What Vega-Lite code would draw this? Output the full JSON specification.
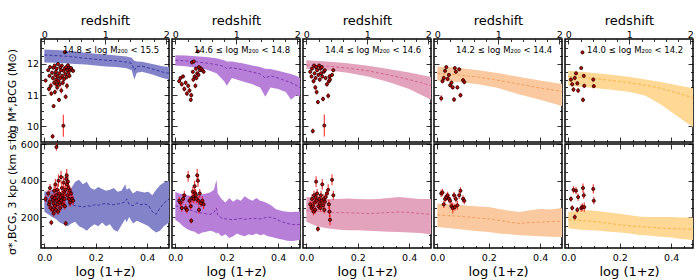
{
"$schema":"https://vega.github.io/schema/vega-lite/v6.json",
"padding":{"left":5,"top":13,"right":5,"bottom":3},
"config":{"view":{"stroke":"black","strokeWidth":1.5},"font":"DejaVu Sans",
"axis":{"domain":false,"grid":false,"tickColor":"black","tickWidth":0.8,"labelFont":"DejaVu Sans","labelFontSize":9.5,"labelColor":"black","titleFont":"DejaVu Sans","titleFontSize":13,"titleFontWeight":"normal","titleColor":"black","labelFlush":false,"labelOverlap":false},
"axisY":{"titleFontSize":11}},
"datasets":{
"band":[
{"p":1,"q":"m","x":0,"lo":12.05,"med":12.29,"hi":12.46},{"p":1,"q":"m","x":0.04,"lo":12.04,"med":12.27,"hi":12.45},{"p":1,"q":"m","x":0.08,"lo":12.02,"med":12.25,"hi":12.43},{"p":1,"q":"m","x":0.12,"lo":12.0,"med":12.22,"hi":12.4},{"p":1,"q":"m","x":0.16,"lo":11.98,"med":12.18,"hi":12.36},{"p":1,"q":"m","x":0.2,"lo":11.95,"med":12.15,"hi":12.33},{"p":1,"q":"m","x":0.24,"lo":11.92,"med":12.12,"hi":12.3},{"p":1,"q":"m","x":0.28,"lo":11.9,"med":12.1,"hi":12.27},{"p":1,"q":"m","x":0.32,"lo":11.86,"med":12.06,"hi":12.24},{"p":1,"q":"m","x":0.34,"lo":11.8,"med":12.02,"hi":12.2},{"p":1,"q":"m","x":0.35,"lo":11.5,"med":11.8,"hi":12.1},{"p":1,"q":"m","x":0.36,"lo":11.72,"med":11.92,"hi":12.08},{"p":1,"q":"m","x":0.38,"lo":11.75,"med":11.93,"hi":12.07},{"p":1,"q":"m","x":0.42,"lo":11.66,"med":11.84,"hi":12.0},{"p":1,"q":"m","x":0.46,"lo":11.55,"med":11.74,"hi":11.93},{"p":1,"q":"m","x":0.485,"lo":11.5,"med":11.7,"hi":11.9},
{"p":2,"q":"m","x":0,"lo":11.95,"med":12.12,"hi":12.28},{"p":2,"q":"m","x":0.04,"lo":11.93,"med":12.1,"hi":12.27},{"p":2,"q":"m","x":0.08,"lo":11.88,"med":12.07,"hi":12.25},{"p":2,"q":"m","x":0.12,"lo":11.82,"med":12.03,"hi":12.22},{"p":2,"q":"m","x":0.16,"lo":11.7,"med":11.98,"hi":12.18},{"p":2,"q":"m","x":0.19,"lo":11.45,"med":11.92,"hi":12.12},{"p":2,"q":"m","x":0.2,"lo":11.3,"med":11.85,"hi":12.08},{"p":2,"q":"m","x":0.22,"lo":11.55,"med":11.88,"hi":12.08},{"p":2,"q":"m","x":0.26,"lo":11.45,"med":11.82,"hi":12.02},{"p":2,"q":"m","x":0.3,"lo":11.35,"med":11.74,"hi":11.95},{"p":2,"q":"m","x":0.33,"lo":11.25,"med":11.68,"hi":11.9},{"p":2,"q":"m","x":0.35,"lo":10.95,"med":11.55,"hi":11.85},{"p":2,"q":"m","x":0.37,"lo":11.25,"med":11.62,"hi":11.84},{"p":2,"q":"m","x":0.4,"lo":11.2,"med":11.55,"hi":11.78},{"p":2,"q":"m","x":0.43,"lo":11.1,"med":11.46,"hi":11.72},{"p":2,"q":"m","x":0.45,"lo":10.85,"med":11.4,"hi":11.68},{"p":2,"q":"m","x":0.47,"lo":11.0,"med":11.32,"hi":11.62},{"p":2,"q":"m","x":0.485,"lo":10.95,"med":11.24,"hi":11.55},
{"p":3,"q":"m","x":0,"lo":11.84,"med":11.96,"hi":12.12},{"p":3,"q":"m","x":0.08,"lo":11.8,"med":11.93,"hi":12.08},{"p":3,"q":"m","x":0.16,"lo":11.72,"med":11.87,"hi":12.02},{"p":3,"q":"m","x":0.24,"lo":11.6,"med":11.78,"hi":11.94},{"p":3,"q":"m","x":0.32,"lo":11.42,"med":11.65,"hi":11.84},{"p":3,"q":"m","x":0.4,"lo":11.2,"med":11.5,"hi":11.73},{"p":3,"q":"m","x":0.485,"lo":10.85,"med":11.31,"hi":11.58},
{"p":4,"q":"m","x":0,"lo":11.47,"med":11.7,"hi":11.92},{"p":4,"q":"m","x":0.08,"lo":11.42,"med":11.65,"hi":11.88},{"p":4,"q":"m","x":0.16,"lo":11.35,"med":11.58,"hi":11.8},{"p":4,"q":"m","x":0.24,"lo":11.22,"med":11.47,"hi":11.7},{"p":4,"q":"m","x":0.32,"lo":11.02,"med":11.35,"hi":11.58},{"p":4,"q":"m","x":0.4,"lo":10.85,"med":11.23,"hi":11.47},{"p":4,"q":"m","x":0.485,"lo":10.65,"med":11.12,"hi":11.36},
{"p":5,"q":"m","x":0,"lo":11.3,"med":11.6,"hi":11.78},{"p":5,"q":"m","x":0.08,"lo":11.25,"med":11.55,"hi":11.73},{"p":5,"q":"m","x":0.16,"lo":11.18,"med":11.48,"hi":11.66},{"p":5,"q":"m","x":0.24,"lo":11.1,"med":11.4,"hi":11.58},{"p":5,"q":"m","x":0.3,"lo":10.98,"med":11.32,"hi":11.5},{"p":5,"q":"m","x":0.36,"lo":10.7,"med":11.22,"hi":11.42},{"p":5,"q":"m","x":0.42,"lo":10.35,"med":11.08,"hi":11.33},{"p":5,"q":"m","x":0.485,"lo":9.97,"med":10.92,"hi":11.22},
{"p":1,"q":"s","x":0,"lo":230,"med":290,"hi":342},{"p":1,"q":"s","x":0.015,"lo":215,"med":285,"hi":340},{"p":1,"q":"s","x":0.03,"lo":200,"med":290,"hi":350},{"p":1,"q":"s","x":0.045,"lo":190,"med":280,"hi":345},{"p":1,"q":"s","x":0.06,"lo":170,"med":275,"hi":335},{"p":1,"q":"s","x":0.075,"lo":160,"med":270,"hi":330},{"p":1,"q":"s","x":0.09,"lo":150,"med":265,"hi":345},{"p":1,"q":"s","x":0.105,"lo":165,"med":270,"hi":360},{"p":1,"q":"s","x":0.12,"lo":175,"med":262,"hi":395},{"p":1,"q":"s","x":0.135,"lo":150,"med":260,"hi":405},{"p":1,"q":"s","x":0.15,"lo":140,"med":255,"hi":380},{"p":1,"q":"s","x":0.165,"lo":125,"med":262,"hi":395},{"p":1,"q":"s","x":0.18,"lo":145,"med":260,"hi":360},{"p":1,"q":"s","x":0.195,"lo":160,"med":268,"hi":350},{"p":1,"q":"s","x":0.21,"lo":150,"med":265,"hi":365},{"p":1,"q":"s","x":0.225,"lo":170,"med":272,"hi":355},{"p":1,"q":"s","x":0.24,"lo":150,"med":275,"hi":345},{"p":1,"q":"s","x":0.255,"lo":160,"med":270,"hi":350},{"p":1,"q":"s","x":0.27,"lo":130,"med":268,"hi":360},{"p":1,"q":"s","x":0.285,"lo":120,"med":272,"hi":340},{"p":1,"q":"s","x":0.3,"lo":155,"med":275,"hi":345},{"p":1,"q":"s","x":0.315,"lo":190,"med":285,"hi":380},{"p":1,"q":"s","x":0.32,"lo":170,"med":300,"hi":350},{"p":1,"q":"s","x":0.33,"lo":200,"med":270,"hi":360},{"p":1,"q":"s","x":0.345,"lo":165,"med":262,"hi":330},{"p":1,"q":"s","x":0.36,"lo":180,"med":278,"hi":345},{"p":1,"q":"s","x":0.375,"lo":170,"med":268,"hi":340},{"p":1,"q":"s","x":0.39,"lo":160,"med":272,"hi":335},{"p":1,"q":"s","x":0.405,"lo":150,"med":265,"hi":340},{"p":1,"q":"s","x":0.42,"lo":130,"med":230,"hi":320},{"p":1,"q":"s","x":0.435,"lo":115,"med":215,"hi":350},{"p":1,"q":"s","x":0.45,"lo":125,"med":250,"hi":375},{"p":1,"q":"s","x":0.465,"lo":150,"med":275,"hi":390},{"p":1,"q":"s","x":0.485,"lo":170,"med":300,"hi":400},
{"p":2,"q":"s","x":0,"lo":185,"med":262,"hi":340},{"p":2,"q":"s","x":0.015,"lo":170,"med":258,"hi":330},{"p":2,"q":"s","x":0.03,"lo":150,"med":250,"hi":325},{"p":2,"q":"s","x":0.045,"lo":135,"med":245,"hi":320},{"p":2,"q":"s","x":0.06,"lo":125,"med":238,"hi":318},{"p":2,"q":"s","x":0.075,"lo":120,"med":230,"hi":315},{"p":2,"q":"s","x":0.09,"lo":105,"med":225,"hi":322},{"p":2,"q":"s","x":0.105,"lo":115,"med":222,"hi":325},{"p":2,"q":"s","x":0.12,"lo":120,"med":218,"hi":330},{"p":2,"q":"s","x":0.135,"lo":125,"med":215,"hi":335},{"p":2,"q":"s","x":0.15,"lo":120,"med":225,"hi":350},{"p":2,"q":"s","x":0.16,"lo":110,"med":250,"hi":405},{"p":2,"q":"s","x":0.165,"lo":115,"med":210,"hi":330},{"p":2,"q":"s","x":0.18,"lo":95,"med":195,"hi":300},{"p":2,"q":"s","x":0.195,"lo":105,"med":190,"hi":280},{"p":2,"q":"s","x":0.21,"lo":85,"med":188,"hi":305},{"p":2,"q":"s","x":0.225,"lo":95,"med":185,"hi":285},{"p":2,"q":"s","x":0.24,"lo":110,"med":190,"hi":300},{"p":2,"q":"s","x":0.255,"lo":100,"med":192,"hi":290},{"p":2,"q":"s","x":0.27,"lo":95,"med":188,"hi":315},{"p":2,"q":"s","x":0.285,"lo":105,"med":190,"hi":300},{"p":2,"q":"s","x":0.3,"lo":100,"med":195,"hi":290},{"p":2,"q":"s","x":0.315,"lo":110,"med":192,"hi":305},{"p":2,"q":"s","x":0.33,"lo":100,"med":190,"hi":290},{"p":2,"q":"s","x":0.345,"lo":105,"med":195,"hi":285},{"p":2,"q":"s","x":0.36,"lo":95,"med":200,"hi":275},{"p":2,"q":"s","x":0.375,"lo":90,"med":198,"hi":262},{"p":2,"q":"s","x":0.39,"lo":85,"med":190,"hi":245},{"p":2,"q":"s","x":0.405,"lo":80,"med":180,"hi":238},{"p":2,"q":"s","x":0.42,"lo":75,"med":172,"hi":232},{"p":2,"q":"s","x":0.435,"lo":70,"med":165,"hi":230},{"p":2,"q":"s","x":0.45,"lo":68,"med":160,"hi":228},{"p":2,"q":"s","x":0.465,"lo":70,"med":158,"hi":230},{"p":2,"q":"s","x":0.485,"lo":75,"med":160,"hi":230},
{"p":3,"q":"s","x":0,"lo":175,"med":235,"hi":310},{"p":3,"q":"s","x":0.04,"lo":150,"med":232,"hi":305},{"p":3,"q":"s","x":0.08,"lo":138,"med":228,"hi":300},{"p":3,"q":"s","x":0.12,"lo":132,"med":225,"hi":300},{"p":3,"q":"s","x":0.16,"lo":128,"med":224,"hi":302},{"p":3,"q":"s","x":0.2,"lo":128,"med":222,"hi":300},{"p":3,"q":"s","x":0.24,"lo":125,"med":220,"hi":298},{"p":3,"q":"s","x":0.28,"lo":122,"med":222,"hi":300},{"p":3,"q":"s","x":0.32,"lo":120,"med":225,"hi":305},{"p":3,"q":"s","x":0.36,"lo":118,"med":228,"hi":310},{"p":3,"q":"s","x":0.4,"lo":115,"med":226,"hi":305},{"p":3,"q":"s","x":0.44,"lo":112,"med":220,"hi":300},{"p":3,"q":"s","x":0.485,"lo":105,"med":215,"hi":300},
{"p":4,"q":"s","x":0,"lo":145,"med":212,"hi":275},{"p":4,"q":"s","x":0.04,"lo":140,"med":208,"hi":272},{"p":4,"q":"s","x":0.08,"lo":135,"med":205,"hi":268},{"p":4,"q":"s","x":0.12,"lo":128,"med":200,"hi":262},{"p":4,"q":"s","x":0.16,"lo":122,"med":195,"hi":258},{"p":4,"q":"s","x":0.2,"lo":118,"med":190,"hi":255},{"p":4,"q":"s","x":0.24,"lo":110,"med":182,"hi":245},{"p":4,"q":"s","x":0.28,"lo":105,"med":172,"hi":235},{"p":4,"q":"s","x":0.32,"lo":100,"med":165,"hi":228},{"p":4,"q":"s","x":0.36,"lo":98,"med":170,"hi":238},{"p":4,"q":"s","x":0.4,"lo":95,"med":172,"hi":245},{"p":4,"q":"s","x":0.44,"lo":92,"med":175,"hi":242},{"p":4,"q":"s","x":0.485,"lo":90,"med":178,"hi":250},
{"p":5,"q":"s","x":0,"lo":138,"med":185,"hi":228},{"p":5,"q":"s","x":0.04,"lo":132,"med":182,"hi":235},{"p":5,"q":"s","x":0.08,"lo":128,"med":178,"hi":238},{"p":5,"q":"s","x":0.12,"lo":125,"med":172,"hi":232},{"p":5,"q":"s","x":0.16,"lo":120,"med":165,"hi":225},{"p":5,"q":"s","x":0.2,"lo":115,"med":158,"hi":218},{"p":5,"q":"s","x":0.24,"lo":110,"med":152,"hi":210},{"p":5,"q":"s","x":0.28,"lo":102,"med":148,"hi":202},{"p":5,"q":"s","x":0.32,"lo":98,"med":144,"hi":200},{"p":5,"q":"s","x":0.36,"lo":92,"med":140,"hi":200},{"p":5,"q":"s","x":0.4,"lo":88,"med":137,"hi":200},{"p":5,"q":"s","x":0.44,"lo":80,"med":135,"hi":198},{"p":5,"q":"s","x":0.485,"lo":74,"med":133,"hi":198}
],
"pts":[
{"p":1,"x":0.005,"m":11.47,"me":0.06,"s":300,"se":18},{"p":1,"x":0.015,"m":11.8,"me":0.05,"s":330,"se":20},{"p":1,"x":0.018,"m":11.2,"me":0.08,"s":270,"se":25},{"p":1,"x":0.02,"m":11.62,"me":0.06,"s":285,"se":20},{"p":1,"x":0.022,"m":11.9,"me":0.05,"s":360,"se":22},{"p":1,"x":0.025,"m":11.3,"me":0.1,"s":250,"se":20},{"p":1,"x":0.027,"m":11.05,"me":0.08,"s":170,"se":15},{"p":1,"x":0.03,"m":11.72,"me":0.06,"s":310,"se":20},{"p":1,"x":0.032,"m":9.68,"me":0.08,"s":240,"se":20},{"p":1,"x":0.033,"m":11.55,"me":0.07,"s":295,"se":25},{"p":1,"x":0.035,"m":11.88,"me":0.05,"s":275,"se":20},{"p":1,"x":0.036,"m":10.65,"me":0.06,"s":220,"se":18},{"p":1,"x":0.038,"m":11.4,"me":0.09,"s":345,"se":30},{"p":1,"x":0.04,"m":11.95,"me":0.05,"s":305,"se":20},{"p":1,"x":0.041,"m":11.1,"me":0.08,"s":260,"se":20},{"p":1,"x":0.043,"m":11.65,"me":0.06,"s":380,"se":30},{"p":1,"x":0.045,"m":11.75,"me":0.06,"s":240,"se":20},{"p":1,"x":0.046,"m":11.5,"me":0.09,"s":320,"se":25},{"p":1,"x":0.048,"m":11.85,"me":0.05,"s":290,"se":20},{"p":1,"x":0.05,"m":11.25,"me":0.1,"s":350,"se":30},{"p":1,"x":0.052,"m":11.6,"me":0.07,"s":270,"se":20},{"p":1,"x":0.053,"m":12.0,"me":0.05,"s":230,"se":18},{"p":1,"x":0.055,"m":11.45,"me":0.08,"s":400,"se":35},{"p":1,"x":0.057,"m":10.85,"me":0.07,"s":300,"se":25},{"p":1,"x":0.058,"m":11.7,"me":0.06,"s":330,"se":25},{"p":1,"x":0.06,"m":11.35,"me":0.09,"s":280,"se":20},{"p":1,"x":0.062,"m":11.9,"me":0.05,"s":250,"se":20},{"p":1,"x":0.063,"m":11.55,"me":0.07,"s":310,"se":25},{"p":1,"x":0.065,"m":11.8,"me":0.06,"s":420,"se":35},{"p":1,"x":0.066,"m":11.15,"me":0.1,"s":290,"se":25},{"p":1,"x":0.068,"m":11.95,"me":0.05,"s":360,"se":30},{"p":1,"x":0.07,"m":11.62,"me":0.07,"s":320,"se":25},{"p":1,"x":0.072,"m":11.4,"me":0.09,"s":270,"se":20},{"p":1,"x":0.074,"m":10.02,"me":0.35,"s":300,"se":25},{"p":1,"x":0.075,"m":11.78,"me":0.06,"s":390,"se":35},{"p":1,"x":0.077,"m":11.52,"me":0.08,"s":340,"se":30},{"p":1,"x":0.079,"m":11.85,"me":0.06,"s":300,"se":25},{"p":1,"x":0.08,"m":12.38,"me":0.05,"s":260,"se":20},{"p":1,"x":0.082,"m":11.68,"me":0.07,"s":350,"se":30},{"p":1,"x":0.083,"m":10.95,"me":0.08,"s":165,"se":15},{"p":1,"x":0.085,"m":11.9,"me":0.06,"s":410,"se":35},{"p":1,"x":0.087,"m":11.58,"me":0.08,"s":430,"se":35},{"p":1,"x":0.088,"m":11.3,"me":0.1,"s":380,"se":30},{"p":1,"x":0.09,"m":11.8,"me":0.06,"s":320,"se":25},{"p":1,"x":0.092,"m":11.96,"me":0.05,"s":395,"se":30},{"p":1,"x":0.094,"m":11.72,"me":0.07,"s":360,"se":30},{"p":1,"x":0.096,"m":11.88,"me":0.06,"s":300,"se":25},{"p":1,"x":0.098,"m":11.62,"me":0.08,"s":345,"se":30},{"p":1,"x":0.1,"m":11.82,"me":0.06,"s":280,"se":25},{"p":1,"x":0.104,"m":11.87,"me":0.05,"s":330,"se":30},{"p":1,"x":0.108,"m":11.8,"me":0.06,"s":300,"se":25},{"p":1,"x":0.112,"m":11.78,"me":0.06,"s":290,"se":25},{"p":1,"x":0.047,"m":11.35,"me":0.08,"s":585,"se":20},
{"p":2,"x":0.015,"m":11.45,"me":0.07,"s":290,"se":20},{"p":2,"x":0.02,"m":11.55,"me":0.06,"s":280,"se":20},{"p":2,"x":0.025,"m":11.35,"me":0.08,"s":250,"se":20},{"p":2,"x":0.03,"m":11.6,"me":0.06,"s":300,"se":25},{"p":2,"x":0.035,"m":11.2,"me":0.08,"s":320,"se":25},{"p":2,"x":0.04,"m":11.4,"me":0.07,"s":250,"se":20},{"p":2,"x":0.045,"m":11.05,"me":0.08,"s":240,"se":20},{"p":2,"x":0.05,"m":11.3,"me":0.07,"s":425,"se":30},{"p":2,"x":0.055,"m":11.15,"me":0.08,"s":290,"se":20},{"p":2,"x":0.06,"m":10.85,"me":0.07,"s":260,"se":20},{"p":2,"x":0.062,"m":11.0,"me":0.08,"s":180,"se":15},{"p":2,"x":0.065,"m":12.05,"me":0.05,"s":305,"se":25},{"p":2,"x":0.068,"m":11.75,"me":0.06,"s":340,"se":25},{"p":2,"x":0.07,"m":11.5,"me":0.08,"s":310,"se":25},{"p":2,"x":0.072,"m":12.08,"me":0.05,"s":300,"se":25},{"p":2,"x":0.075,"m":11.6,"me":0.07,"s":370,"se":30},{"p":2,"x":0.078,"m":11.3,"me":0.08,"s":330,"se":25},{"p":2,"x":0.08,"m":11.85,"me":0.06,"s":320,"se":25},{"p":2,"x":0.082,"m":11.55,"me":0.07,"s":300,"se":25},{"p":2,"x":0.085,"m":11.7,"me":0.06,"s":430,"se":35},{"p":2,"x":0.088,"m":12.4,"me":0.05,"s":400,"se":35},{"p":2,"x":0.09,"m":11.65,"me":0.07,"s":290,"se":25},{"p":2,"x":0.092,"m":11.9,"me":0.06,"s":240,"se":20},{"p":2,"x":0.095,"m":11.8,"me":0.06,"s":330,"se":25},{"p":2,"x":0.1,"m":11.85,"me":0.06,"s":275,"se":20},{"p":2,"x":0.105,"m":11.8,"me":0.06,"s":290,"se":25},{"p":2,"x":0.11,"m":11.75,"me":0.06,"s":270,"se":25},
{"p":3,"x":0.015,"m":11.75,"me":0.06,"s":270,"se":20},{"p":3,"x":0.02,"m":11.6,"me":0.07,"s":250,"se":20},{"p":3,"x":0.022,"m":11.85,"me":0.05,"s":300,"se":25},{"p":3,"x":0.025,"m":9.85,"me":0.08,"s":260,"se":20},{"p":3,"x":0.028,"m":11.45,"me":0.08,"s":230,"se":20},{"p":3,"x":0.03,"m":11.95,"me":0.05,"s":320,"se":25},{"p":3,"x":0.032,"m":11.7,"me":0.06,"s":280,"se":20},{"p":3,"x":0.035,"m":11.25,"me":0.08,"s":240,"se":20},{"p":3,"x":0.036,"m":11.55,"me":0.07,"s":310,"se":25},{"p":3,"x":0.038,"m":11.9,"me":0.05,"s":395,"se":30},{"p":3,"x":0.04,"m":11.1,"me":0.08,"s":290,"se":20},{"p":3,"x":0.042,"m":11.8,"me":0.06,"s":330,"se":25},{"p":3,"x":0.045,"m":10.78,"me":0.07,"s":135,"se":15},{"p":3,"x":0.047,"m":11.65,"me":0.06,"s":260,"se":20},{"p":3,"x":0.05,"m":11.95,"me":0.05,"s":300,"se":25},{"p":3,"x":0.052,"m":11.5,"me":0.07,"s":275,"se":20},{"p":3,"x":0.055,"m":11.85,"me":0.06,"s":250,"se":20},{"p":3,"x":0.057,"m":11.7,"me":0.06,"s":320,"se":25},{"p":3,"x":0.06,"m":11.9,"me":0.05,"s":290,"se":20},{"p":3,"x":0.062,"m":11.6,"me":0.07,"s":380,"se":30},{"p":3,"x":0.065,"m":10.88,"me":0.08,"s":265,"se":20},{"p":3,"x":0.068,"m":11.75,"me":0.06,"s":300,"se":25},{"p":3,"x":0.07,"m":10.03,"me":0.35,"s":240,"se":20},{"p":3,"x":0.072,"m":11.8,"me":0.06,"s":285,"se":20},{"p":3,"x":0.075,"m":11.55,"me":0.07,"s":310,"se":25},{"p":3,"x":0.08,"m":11.35,"me":0.08,"s":330,"se":25},{"p":3,"x":0.085,"m":10.98,"me":0.08,"s":350,"se":30},{"p":3,"x":0.088,"m":11.45,"me":0.08,"s":270,"se":25},{"p":3,"x":0.09,"m":11.6,"me":0.07,"s":230,"se":30},{"p":3,"x":0.092,"m":11.5,"me":0.08,"s":185,"se":30},{"p":3,"x":0.1,"m":11.65,"me":0.07,"s":405,"se":30},{"p":3,"x":0.105,"m":11.8,"me":0.06,"s":320,"se":25},
{"p":4,"x":0.015,"m":10.9,"me":0.1,"s":330,"se":20},{"p":4,"x":0.02,"m":11.45,"me":0.07,"s":335,"se":20},{"p":4,"x":0.025,"m":11.55,"me":0.07,"s":270,"se":20},{"p":4,"x":0.03,"m":11.78,"me":0.06,"s":300,"se":20},{"p":4,"x":0.035,"m":11.9,"me":0.05,"s":310,"se":20},{"p":4,"x":0.04,"m":11.52,"me":0.07,"s":320,"se":20},{"p":4,"x":0.045,"m":11.65,"me":0.06,"s":300,"se":20},{"p":4,"x":0.05,"m":11.32,"me":0.07,"s":290,"se":20},{"p":4,"x":0.055,"m":11.4,"me":0.07,"s":260,"se":20},{"p":4,"x":0.06,"m":11.25,"me":0.07,"s":250,"se":30},{"p":4,"x":0.065,"m":10.86,"me":0.08,"s":320,"se":20},{"p":4,"x":0.068,"m":11.87,"me":0.05,"s":255,"se":20},{"p":4,"x":0.072,"m":11.75,"me":0.06,"s":300,"se":20},{"p":4,"x":0.078,"m":11.25,"me":0.07,"s":265,"se":25},{"p":4,"x":0.085,"m":11.83,"me":0.06,"s":320,"se":20},{"p":4,"x":0.09,"m":11.0,"me":0.08,"s":345,"se":20},{"p":4,"x":0.1,"m":11.48,"me":0.07,"s":300,"se":20},{"p":4,"x":0.105,"m":11.42,"me":0.07,"s":290,"se":20},
{"p":5,"x":0.01,"m":11.5,"me":0.07,"s":300,"se":15},{"p":5,"x":0.015,"m":11.35,"me":0.07,"s":250,"se":15},{"p":5,"x":0.02,"m":11.18,"me":0.08,"s":350,"se":20},{"p":5,"x":0.025,"m":11.55,"me":0.07,"s":200,"se":15},{"p":5,"x":0.03,"m":11.7,"me":0.06,"s":345,"se":20},{"p":5,"x":0.035,"m":11.38,"me":0.07,"s":240,"se":15},{"p":5,"x":0.038,"m":11.15,"me":0.08,"s":310,"se":20},{"p":5,"x":0.05,"m":11.87,"me":0.05,"s":250,"se":20},{"p":5,"x":0.055,"m":12.37,"me":0.05,"s":255,"se":20},{"p":5,"x":0.057,"m":10.85,"me":0.08,"s":360,"se":25},{"p":5,"x":0.06,"m":11.62,"me":0.06,"s":320,"se":20},{"p":5,"x":0.062,"m":11.3,"me":0.07,"s":255,"se":25},{"p":5,"x":0.097,"m":11.5,"me":0.07,"s":355,"se":25},{"p":5,"x":0.099,"m":11.29,"me":0.07,"s":290,"se":20}
]},
"columns":5,
"spacing":{"row":2,"column":3},
"bounds":"flush",
"concat":[
{"width":128,"height":103,"resolve":{"axis":{"x":"independent","y":"independent"}},"layer":[
{"data":{"name":"band"},"transform":[{"filter":"datum.p==1 && datum.q=='m'"}],"mark":{"type":"area","color":"#8383c9","clip":true},"encoding":{"x":{"field":"x","type":"quantitative","scale":{"domain":[-0.013,0.485],"nice":false,"zero":false},"axis":{"orient":"bottom","values":[0,0.05,0.1,0.15,0.2,0.25,0.3,0.35,0.4,0.45],"tickSize":{"condition":{"test":"abs(datum.value*5-round(datum.value*5))<0.001","value":-5},"value":-2.5},"labels":false,"title":null}},"y":{"field":"lo","type":"quantitative","scale":{"domain":[9.5,12.8],"nice":false,"zero":false},"axis":{"orient":"left","values":[9.75,10,10.25,10.5,10.75,11,11.25,11.5,11.75,12,12.25,12.5,12.75],"tickSize":{"condition":{"test":"datum.value%1==0","value":-5},"value":-2.5},"labelExpr":"datum.value%1==0 ? format(datum.value,'d') : ''","labelPadding":7.5,"title":"log M*,BCG (M⊙)","titleX":-24,"titleY":56}},"y2":{"field":"hi"}}},
{"data":{"name":"band"},"transform":[{"filter":"datum.p==1 && datum.q=='m'"}],"mark":{"type":"line","color":"#2f2f9f","strokeDash":[3,2],"strokeWidth":0.9,"clip":true},"encoding":{"x":{"field":"x","type":"quantitative","axis":{"orient":"top","values":[0,0.04744,0.09488,0.14232,0.18976,0.2372,0.28464,0.33208,0.37952,0.42696,0.4744],"tickSize":{"condition":{"test":"abs(datum.value/0.2372-round(datum.value/0.2372))<0.01","value":-5},"value":-2.5},"labelExpr":"abs(datum.value/0.2372-round(datum.value/0.2372))<0.01 ? format(round(datum.value/0.2372),'d') : ''","labelPadding":5,"title":"redshift","titlePadding":-1}},"y":{"field":"med","type":"quantitative","axis":{"orient":"right","values":[9.75,10,10.25,10.5,10.75,11,11.25,11.5,11.75,12,12.25,12.5,12.75],"tickSize":{"condition":{"test":"datum.value%1==0","value":-5},"value":-2.5},"labels":false,"title":null}}}},
{"data":{"name":"pts"},"transform":[{"filter":"datum.p==1"}],"mark":{"type":"errorbar","color":"#ff0000","opacity":0.75,"thickness":1.2},"encoding":{"x":{"field":"x","type":"quantitative","axis":null},"y":{"field":"m","type":"quantitative","axis":null},"yError":{"field":"me"}}},
{"data":{"name":"pts"},"transform":[{"filter":"datum.p==1"}],"mark":{"type":"circle","size":10,"fill":"#c00000","stroke":"black","strokeWidth":0.7,"opacity":1,"clip":true},"encoding":{"x":{"field":"x","type":"quantitative","axis":null},"y":{"field":"m","type":"quantitative","axis":null}}},
{"data":{"values":[{}]},"mark":{"type":"text","fontSize":8.5,"baseline":"middle","font":"DejaVu Sans"},"encoding":{"x":{"datum":0.26,"type":"quantitative","axis":null},"y":{"datum":12.46,"type":"quantitative","axis":null},"text":{"value":"14.8 ≤  log M₂₀₀ < 15.5"}}}
]},
{"width":128,"height":103,"resolve":{"axis":{"x":"independent","y":"independent"}},"layer":[
{"data":{"name":"band"},"transform":[{"filter":"datum.p==2 && datum.q=='m'"}],"mark":{"type":"area","color":"#b87fd9","clip":true},"encoding":{"x":{"field":"x","type":"quantitative","scale":{"domain":[-0.013,0.485],"nice":false,"zero":false},"axis":{"orient":"bottom","values":[0,0.05,0.1,0.15,0.2,0.25,0.3,0.35,0.4,0.45],"tickSize":{"condition":{"test":"abs(datum.value*5-round(datum.value*5))<0.001","value":-5},"value":-2.5},"labels":false,"title":null}},"y":{"field":"lo","type":"quantitative","scale":{"domain":[9.5,12.8],"nice":false,"zero":false},"axis":{"orient":"left","values":[9.75,10,10.25,10.5,10.75,11,11.25,11.5,11.75,12,12.25,12.5,12.75],"tickSize":{"condition":{"test":"datum.value%1==0","value":-5},"value":-2.5},"labels":false,"title":null}},"y2":{"field":"hi"}}},
{"data":{"name":"band"},"transform":[{"filter":"datum.p==2 && datum.q=='m'"}],"mark":{"type":"line","color":"#7d2fa8","strokeDash":[3,2],"strokeWidth":0.9,"clip":true},"encoding":{"x":{"field":"x","type":"quantitative","axis":{"orient":"top","values":[0,0.04744,0.09488,0.14232,0.18976,0.2372,0.28464,0.33208,0.37952,0.42696,0.4744],"tickSize":{"condition":{"test":"abs(datum.value/0.2372-round(datum.value/0.2372))<0.01","value":-5},"value":-2.5},"labelExpr":"abs(datum.value/0.2372-round(datum.value/0.2372))<0.01 ? format(round(datum.value/0.2372),'d') : ''","labelPadding":5,"title":"redshift","titlePadding":-1}},"y":{"field":"med","type":"quantitative","axis":{"orient":"right","values":[9.75,10,10.25,10.5,10.75,11,11.25,11.5,11.75,12,12.25,12.5,12.75],"tickSize":{"condition":{"test":"datum.value%1==0","value":-5},"value":-2.5},"labels":false,"title":null}}}},
{"data":{"name":"pts"},"transform":[{"filter":"datum.p==2"}],"mark":{"type":"errorbar","color":"#ff0000","opacity":0.75,"thickness":1.2},"encoding":{"x":{"field":"x","type":"quantitative","axis":null},"y":{"field":"m","type":"quantitative","axis":null},"yError":{"field":"me"}}},
{"data":{"name":"pts"},"transform":[{"filter":"datum.p==2"}],"mark":{"type":"circle","size":10,"fill":"#c00000","stroke":"black","strokeWidth":0.7,"opacity":1,"clip":true},"encoding":{"x":{"field":"x","type":"quantitative","axis":null},"y":{"field":"m","type":"quantitative","axis":null}}},
{"data":{"values":[{}]},"mark":{"type":"text","fontSize":8.5,"baseline":"middle","font":"DejaVu Sans"},"encoding":{"x":{"datum":0.26,"type":"quantitative","axis":null},"y":{"datum":12.46,"type":"quantitative","axis":null},"text":{"value":"14.6 ≤  log M₂₀₀ < 14.8"}}}
]},
{"width":128,"height":103,"resolve":{"axis":{"x":"independent","y":"independent"}},"layer":[
{"data":{"name":"band"},"transform":[{"filter":"datum.p==3 && datum.q=='m'"}],"mark":{"type":"area","color":"#e4a3bc","clip":true},"encoding":{"x":{"field":"x","type":"quantitative","scale":{"domain":[-0.013,0.485],"nice":false,"zero":false},"axis":{"orient":"bottom","values":[0,0.05,0.1,0.15,0.2,0.25,0.3,0.35,0.4,0.45],"tickSize":{"condition":{"test":"abs(datum.value*5-round(datum.value*5))<0.001","value":-5},"value":-2.5},"labels":false,"title":null}},"y":{"field":"lo","type":"quantitative","scale":{"domain":[9.5,12.8],"nice":false,"zero":false},"axis":{"orient":"left","values":[9.75,10,10.25,10.5,10.75,11,11.25,11.5,11.75,12,12.25,12.5,12.75],"tickSize":{"condition":{"test":"datum.value%1==0","value":-5},"value":-2.5},"labels":false,"title":null}},"y2":{"field":"hi"}}},
{"data":{"name":"band"},"transform":[{"filter":"datum.p==3 && datum.q=='m'"}],"mark":{"type":"line","color":"#cf5f8a","strokeDash":[3,2],"strokeWidth":0.9,"clip":true},"encoding":{"x":{"field":"x","type":"quantitative","axis":{"orient":"top","values":[0,0.04744,0.09488,0.14232,0.18976,0.2372,0.28464,0.33208,0.37952,0.42696,0.4744],"tickSize":{"condition":{"test":"abs(datum.value/0.2372-round(datum.value/0.2372))<0.01","value":-5},"value":-2.5},"labelExpr":"abs(datum.value/0.2372-round(datum.value/0.2372))<0.01 ? format(round(datum.value/0.2372),'d') : ''","labelPadding":5,"title":"redshift","titlePadding":-1}},"y":{"field":"med","type":"quantitative","axis":{"orient":"right","values":[9.75,10,10.25,10.5,10.75,11,11.25,11.5,11.75,12,12.25,12.5,12.75],"tickSize":{"condition":{"test":"datum.value%1==0","value":-5},"value":-2.5},"labels":false,"title":null}}}},
{"data":{"name":"pts"},"transform":[{"filter":"datum.p==3"}],"mark":{"type":"errorbar","color":"#ff0000","opacity":0.75,"thickness":1.2},"encoding":{"x":{"field":"x","type":"quantitative","axis":null},"y":{"field":"m","type":"quantitative","axis":null},"yError":{"field":"me"}}},
{"data":{"name":"pts"},"transform":[{"filter":"datum.p==3"}],"mark":{"type":"circle","size":10,"fill":"#c00000","stroke":"black","strokeWidth":0.7,"opacity":1,"clip":true},"encoding":{"x":{"field":"x","type":"quantitative","axis":null},"y":{"field":"m","type":"quantitative","axis":null}}},
{"data":{"values":[{}]},"mark":{"type":"text","fontSize":8.5,"baseline":"middle","font":"DejaVu Sans"},"encoding":{"x":{"datum":0.26,"type":"quantitative","axis":null},"y":{"datum":12.46,"type":"quantitative","axis":null},"text":{"value":"14.4 ≤  log M₂₀₀ < 14.6"}}}
]},
{"width":128,"height":103,"resolve":{"axis":{"x":"independent","y":"independent"}},"layer":[
{"data":{"name":"band"},"transform":[{"filter":"datum.p==4 && datum.q=='m'"}],"mark":{"type":"area","color":"#fac9a0","clip":true},"encoding":{"x":{"field":"x","type":"quantitative","scale":{"domain":[-0.013,0.485],"nice":false,"zero":false},"axis":{"orient":"bottom","values":[0,0.05,0.1,0.15,0.2,0.25,0.3,0.35,0.4,0.45],"tickSize":{"condition":{"test":"abs(datum.value*5-round(datum.value*5))<0.001","value":-5},"value":-2.5},"labels":false,"title":null}},"y":{"field":"lo","type":"quantitative","scale":{"domain":[9.5,12.8],"nice":false,"zero":false},"axis":{"orient":"left","values":[9.75,10,10.25,10.5,10.75,11,11.25,11.5,11.75,12,12.25,12.5,12.75],"tickSize":{"condition":{"test":"datum.value%1==0","value":-5},"value":-2.5},"labels":false,"title":null}},"y2":{"field":"hi"}}},
{"data":{"name":"band"},"transform":[{"filter":"datum.p==4 && datum.q=='m'"}],"mark":{"type":"line","color":"#f29a58","strokeDash":[3,2],"strokeWidth":0.9,"clip":true},"encoding":{"x":{"field":"x","type":"quantitative","axis":{"orient":"top","values":[0,0.04744,0.09488,0.14232,0.18976,0.2372,0.28464,0.33208,0.37952,0.42696,0.4744],"tickSize":{"condition":{"test":"abs(datum.value/0.2372-round(datum.value/0.2372))<0.01","value":-5},"value":-2.5},"labelExpr":"abs(datum.value/0.2372-round(datum.value/0.2372))<0.01 ? format(round(datum.value/0.2372),'d') : ''","labelPadding":5,"title":"redshift","titlePadding":-1}},"y":{"field":"med","type":"quantitative","axis":{"orient":"right","values":[9.75,10,10.25,10.5,10.75,11,11.25,11.5,11.75,12,12.25,12.5,12.75],"tickSize":{"condition":{"test":"datum.value%1==0","value":-5},"value":-2.5},"labels":false,"title":null}}}},
{"data":{"name":"pts"},"transform":[{"filter":"datum.p==4"}],"mark":{"type":"errorbar","color":"#ff0000","opacity":0.75,"thickness":1.2},"encoding":{"x":{"field":"x","type":"quantitative","axis":null},"y":{"field":"m","type":"quantitative","axis":null},"yError":{"field":"me"}}},
{"data":{"name":"pts"},"transform":[{"filter":"datum.p==4"}],"mark":{"type":"circle","size":10,"fill":"#c00000","stroke":"black","strokeWidth":0.7,"opacity":1,"clip":true},"encoding":{"x":{"field":"x","type":"quantitative","axis":null},"y":{"field":"m","type":"quantitative","axis":null}}},
{"data":{"values":[{}]},"mark":{"type":"text","fontSize":8.5,"baseline":"middle","font":"DejaVu Sans"},"encoding":{"x":{"datum":0.26,"type":"quantitative","axis":null},"y":{"datum":12.46,"type":"quantitative","axis":null},"text":{"value":"14.2 ≤  log M₂₀₀ < 14.4"}}}
]},
{"width":128,"height":103,"resolve":{"axis":{"x":"independent","y":"independent"}},"layer":[
{"data":{"name":"band"},"transform":[{"filter":"datum.p==5 && datum.q=='m'"}],"mark":{"type":"area","color":"#fed894","clip":true},"encoding":{"x":{"field":"x","type":"quantitative","scale":{"domain":[-0.013,0.485],"nice":false,"zero":false},"axis":{"orient":"bottom","values":[0,0.05,0.1,0.15,0.2,0.25,0.3,0.35,0.4,0.45],"tickSize":{"condition":{"test":"abs(datum.value*5-round(datum.value*5))<0.001","value":-5},"value":-2.5},"labels":false,"title":null}},"y":{"field":"lo","type":"quantitative","scale":{"domain":[9.5,12.8],"nice":false,"zero":false},"axis":{"orient":"left","values":[9.75,10,10.25,10.5,10.75,11,11.25,11.5,11.75,12,12.25,12.5,12.75],"tickSize":{"condition":{"test":"datum.value%1==0","value":-5},"value":-2.5},"labels":false,"title":null}},"y2":{"field":"hi"}}},
{"data":{"name":"band"},"transform":[{"filter":"datum.p==5 && datum.q=='m'"}],"mark":{"type":"line","color":"#f5b042","strokeDash":[3,2],"strokeWidth":0.9,"clip":true},"encoding":{"x":{"field":"x","type":"quantitative","axis":{"orient":"top","values":[0,0.04744,0.09488,0.14232,0.18976,0.2372,0.28464,0.33208,0.37952,0.42696,0.4744],"tickSize":{"condition":{"test":"abs(datum.value/0.2372-round(datum.value/0.2372))<0.01","value":-5},"value":-2.5},"labelExpr":"abs(datum.value/0.2372-round(datum.value/0.2372))<0.01 ? format(round(datum.value/0.2372),'d') : ''","labelPadding":5,"title":"redshift","titlePadding":-1}},"y":{"field":"med","type":"quantitative","axis":{"orient":"right","values":[9.75,10,10.25,10.5,10.75,11,11.25,11.5,11.75,12,12.25,12.5,12.75],"tickSize":{"condition":{"test":"datum.value%1==0","value":-5},"value":-2.5},"labels":false,"title":null}}}},
{"data":{"name":"pts"},"transform":[{"filter":"datum.p==5"}],"mark":{"type":"errorbar","color":"#ff0000","opacity":0.75,"thickness":1.2},"encoding":{"x":{"field":"x","type":"quantitative","axis":null},"y":{"field":"m","type":"quantitative","axis":null},"yError":{"field":"me"}}},
{"data":{"name":"pts"},"transform":[{"filter":"datum.p==5"}],"mark":{"type":"circle","size":10,"fill":"#c00000","stroke":"black","strokeWidth":0.7,"opacity":1,"clip":true},"encoding":{"x":{"field":"x","type":"quantitative","axis":null},"y":{"field":"m","type":"quantitative","axis":null}}},
{"data":{"values":[{}]},"mark":{"type":"text","fontSize":8.5,"baseline":"middle","font":"DejaVu Sans"},"encoding":{"x":{"datum":0.26,"type":"quantitative","axis":null},"y":{"datum":12.46,"type":"quantitative","axis":null},"text":{"value":"14.0 ≤  log M₂₀₀ < 14.2"}}}
]},
{"width":128,"height":104,"resolve":{"axis":{"x":"independent","y":"independent"}},"layer":[
{"data":{"name":"band"},"transform":[{"filter":"datum.p==1 && datum.q=='s'"}],"mark":{"type":"area","color":"#8383c9","clip":true},"encoding":{"x":{"field":"x","type":"quantitative","scale":{"domain":[-0.013,0.485],"nice":false,"zero":false},"axis":{"orient":"bottom","values":[0,0.05,0.1,0.15,0.2,0.25,0.3,0.35,0.4,0.45],"tickSize":{"condition":{"test":"abs(datum.value*5-round(datum.value*5))<0.001","value":-5},"value":-2.5},"labelExpr":"abs(datum.value*5-round(datum.value*5))<0.001 ? format(datum.value,'.1f') : ''","labelPadding":9,"title":"log (1+z)","titlePadding":1}},"y":{"field":"lo","type":"quantitative","scale":{"domain":[30,602],"nice":false,"zero":false},"axis":{"orient":"left","values":[50,100,150,200,250,300,350,400,450,500,550,600],"tickSize":{"condition":{"test":"datum.value%200==0","value":-5},"value":-2.5},"labelExpr":"datum.value%200==0 ? format(datum.value,'d') : ''","labelPadding":7.5,"title":"σ*,BCG, 3 kpc (km s⁻¹)","titleX":-24,"titleY":48}},"y2":{"field":"hi"}}},
{"data":{"name":"band"},"transform":[{"filter":"datum.p==1 && datum.q=='s'"}],"mark":{"type":"line","color":"#2f2f9f","strokeDash":[3,2],"strokeWidth":0.9,"clip":true},"encoding":{"x":{"field":"x","type":"quantitative","axis":{"orient":"top","values":[0,0.05,0.1,0.15,0.2,0.25,0.3,0.35,0.4,0.45],"tickSize":{"condition":{"test":"abs(datum.value*5-round(datum.value*5))<0.001","value":-5},"value":-2.5},"labels":false,"title":null}},"y":{"field":"med","type":"quantitative","axis":{"orient":"right","values":[50,100,150,200,250,300,350,400,450,500,550,600],"tickSize":{"condition":{"test":"datum.value%200==0","value":-5},"value":-2.5},"labels":false,"title":null}}}},
{"data":{"name":"pts"},"transform":[{"filter":"datum.p==1"}],"mark":{"type":"errorbar","color":"#ff0000","opacity":0.75,"thickness":1.2},"encoding":{"x":{"field":"x","type":"quantitative","axis":null},"y":{"field":"s","type":"quantitative","axis":null},"yError":{"field":"se"}}},
{"data":{"name":"pts"},"transform":[{"filter":"datum.p==1"}],"mark":{"type":"circle","size":10,"fill":"#c00000","stroke":"black","strokeWidth":0.7,"opacity":1,"clip":true},"encoding":{"x":{"field":"x","type":"quantitative","axis":null},"y":{"field":"s","type":"quantitative","axis":null}}}
]},
{"width":128,"height":104,"resolve":{"axis":{"x":"independent","y":"independent"}},"layer":[
{"data":{"name":"band"},"transform":[{"filter":"datum.p==2 && datum.q=='s'"}],"mark":{"type":"area","color":"#b87fd9","clip":true},"encoding":{"x":{"field":"x","type":"quantitative","scale":{"domain":[-0.013,0.485],"nice":false,"zero":false},"axis":{"orient":"bottom","values":[0,0.05,0.1,0.15,0.2,0.25,0.3,0.35,0.4,0.45],"tickSize":{"condition":{"test":"abs(datum.value*5-round(datum.value*5))<0.001","value":-5},"value":-2.5},"labelExpr":"abs(datum.value*5-round(datum.value*5))<0.001 ? format(datum.value,'.1f') : ''","labelPadding":9,"title":"log (1+z)","titlePadding":1}},"y":{"field":"lo","type":"quantitative","scale":{"domain":[30,602],"nice":false,"zero":false},"axis":{"orient":"left","values":[50,100,150,200,250,300,350,400,450,500,550,600],"tickSize":{"condition":{"test":"datum.value%200==0","value":-5},"value":-2.5},"labels":false,"title":null}},"y2":{"field":"hi"}}},
{"data":{"name":"band"},"transform":[{"filter":"datum.p==2 && datum.q=='s'"}],"mark":{"type":"line","color":"#7d2fa8","strokeDash":[3,2],"strokeWidth":0.9,"clip":true},"encoding":{"x":{"field":"x","type":"quantitative","axis":{"orient":"top","values":[0,0.05,0.1,0.15,0.2,0.25,0.3,0.35,0.4,0.45],"tickSize":{"condition":{"test":"abs(datum.value*5-round(datum.value*5))<0.001","value":-5},"value":-2.5},"labels":false,"title":null}},"y":{"field":"med","type":"quantitative","axis":{"orient":"right","values":[50,100,150,200,250,300,350,400,450,500,550,600],"tickSize":{"condition":{"test":"datum.value%200==0","value":-5},"value":-2.5},"labels":false,"title":null}}}},
{"data":{"name":"pts"},"transform":[{"filter":"datum.p==2"}],"mark":{"type":"errorbar","color":"#ff0000","opacity":0.75,"thickness":1.2},"encoding":{"x":{"field":"x","type":"quantitative","axis":null},"y":{"field":"s","type":"quantitative","axis":null},"yError":{"field":"se"}}},
{"data":{"name":"pts"},"transform":[{"filter":"datum.p==2"}],"mark":{"type":"circle","size":10,"fill":"#c00000","stroke":"black","strokeWidth":0.7,"opacity":1,"clip":true},"encoding":{"x":{"field":"x","type":"quantitative","axis":null},"y":{"field":"s","type":"quantitative","axis":null}}}
]},
{"width":128,"height":104,"resolve":{"axis":{"x":"independent","y":"independent"}},"layer":[
{"data":{"name":"band"},"transform":[{"filter":"datum.p==3 && datum.q=='s'"}],"mark":{"type":"area","color":"#e4a3bc","clip":true},"encoding":{"x":{"field":"x","type":"quantitative","scale":{"domain":[-0.013,0.485],"nice":false,"zero":false},"axis":{"orient":"bottom","values":[0,0.05,0.1,0.15,0.2,0.25,0.3,0.35,0.4,0.45],"tickSize":{"condition":{"test":"abs(datum.value*5-round(datum.value*5))<0.001","value":-5},"value":-2.5},"labelExpr":"abs(datum.value*5-round(datum.value*5))<0.001 ? format(datum.value,'.1f') : ''","labelPadding":9,"title":"log (1+z)","titlePadding":1}},"y":{"field":"lo","type":"quantitative","scale":{"domain":[30,602],"nice":false,"zero":false},"axis":{"orient":"left","values":[50,100,150,200,250,300,350,400,450,500,550,600],"tickSize":{"condition":{"test":"datum.value%200==0","value":-5},"value":-2.5},"labels":false,"title":null}},"y2":{"field":"hi"}}},
{"data":{"name":"band"},"transform":[{"filter":"datum.p==3 && datum.q=='s'"}],"mark":{"type":"line","color":"#cf5f8a","strokeDash":[3,2],"strokeWidth":0.9,"clip":true},"encoding":{"x":{"field":"x","type":"quantitative","axis":{"orient":"top","values":[0,0.05,0.1,0.15,0.2,0.25,0.3,0.35,0.4,0.45],"tickSize":{"condition":{"test":"abs(datum.value*5-round(datum.value*5))<0.001","value":-5},"value":-2.5},"labels":false,"title":null}},"y":{"field":"med","type":"quantitative","axis":{"orient":"right","values":[50,100,150,200,250,300,350,400,450,500,550,600],"tickSize":{"condition":{"test":"datum.value%200==0","value":-5},"value":-2.5},"labels":false,"title":null}}}},
{"data":{"name":"pts"},"transform":[{"filter":"datum.p==3"}],"mark":{"type":"errorbar","color":"#ff0000","opacity":0.75,"thickness":1.2},"encoding":{"x":{"field":"x","type":"quantitative","axis":null},"y":{"field":"s","type":"quantitative","axis":null},"yError":{"field":"se"}}},
{"data":{"name":"pts"},"transform":[{"filter":"datum.p==3"}],"mark":{"type":"circle","size":10,"fill":"#c00000","stroke":"black","strokeWidth":0.7,"opacity":1,"clip":true},"encoding":{"x":{"field":"x","type":"quantitative","axis":null},"y":{"field":"s","type":"quantitative","axis":null}}}
]},
{"width":128,"height":104,"resolve":{"axis":{"x":"independent","y":"independent"}},"layer":[
{"data":{"name":"band"},"transform":[{"filter":"datum.p==4 && datum.q=='s'"}],"mark":{"type":"area","color":"#fac9a0","clip":true},"encoding":{"x":{"field":"x","type":"quantitative","scale":{"domain":[-0.013,0.485],"nice":false,"zero":false},"axis":{"orient":"bottom","values":[0,0.05,0.1,0.15,0.2,0.25,0.3,0.35,0.4,0.45],"tickSize":{"condition":{"test":"abs(datum.value*5-round(datum.value*5))<0.001","value":-5},"value":-2.5},"labelExpr":"abs(datum.value*5-round(datum.value*5))<0.001 ? format(datum.value,'.1f') : ''","labelPadding":9,"title":"log (1+z)","titlePadding":1}},"y":{"field":"lo","type":"quantitative","scale":{"domain":[30,602],"nice":false,"zero":false},"axis":{"orient":"left","values":[50,100,150,200,250,300,350,400,450,500,550,600],"tickSize":{"condition":{"test":"datum.value%200==0","value":-5},"value":-2.5},"labels":false,"title":null}},"y2":{"field":"hi"}}},
{"data":{"name":"band"},"transform":[{"filter":"datum.p==4 && datum.q=='s'"}],"mark":{"type":"line","color":"#f29a58","strokeDash":[3,2],"strokeWidth":0.9,"clip":true},"encoding":{"x":{"field":"x","type":"quantitative","axis":{"orient":"top","values":[0,0.05,0.1,0.15,0.2,0.25,0.3,0.35,0.4,0.45],"tickSize":{"condition":{"test":"abs(datum.value*5-round(datum.value*5))<0.001","value":-5},"value":-2.5},"labels":false,"title":null}},"y":{"field":"med","type":"quantitative","axis":{"orient":"right","values":[50,100,150,200,250,300,350,400,450,500,550,600],"tickSize":{"condition":{"test":"datum.value%200==0","value":-5},"value":-2.5},"labels":false,"title":null}}}},
{"data":{"name":"pts"},"transform":[{"filter":"datum.p==4"}],"mark":{"type":"errorbar","color":"#ff0000","opacity":0.75,"thickness":1.2},"encoding":{"x":{"field":"x","type":"quantitative","axis":null},"y":{"field":"s","type":"quantitative","axis":null},"yError":{"field":"se"}}},
{"data":{"name":"pts"},"transform":[{"filter":"datum.p==4"}],"mark":{"type":"circle","size":10,"fill":"#c00000","stroke":"black","strokeWidth":0.7,"opacity":1,"clip":true},"encoding":{"x":{"field":"x","type":"quantitative","axis":null},"y":{"field":"s","type":"quantitative","axis":null}}}
]},
{"width":128,"height":104,"resolve":{"axis":{"x":"independent","y":"independent"}},"layer":[
{"data":{"name":"band"},"transform":[{"filter":"datum.p==5 && datum.q=='s'"}],"mark":{"type":"area","color":"#fed894","clip":true},"encoding":{"x":{"field":"x","type":"quantitative","scale":{"domain":[-0.013,0.485],"nice":false,"zero":false},"axis":{"orient":"bottom","values":[0,0.05,0.1,0.15,0.2,0.25,0.3,0.35,0.4,0.45],"tickSize":{"condition":{"test":"abs(datum.value*5-round(datum.value*5))<0.001","value":-5},"value":-2.5},"labelExpr":"abs(datum.value*5-round(datum.value*5))<0.001 ? format(datum.value,'.1f') : ''","labelPadding":9,"title":"log (1+z)","titlePadding":1}},"y":{"field":"lo","type":"quantitative","scale":{"domain":[30,602],"nice":false,"zero":false},"axis":{"orient":"left","values":[50,100,150,200,250,300,350,400,450,500,550,600],"tickSize":{"condition":{"test":"datum.value%200==0","value":-5},"value":-2.5},"labels":false,"title":null}},"y2":{"field":"hi"}}},
{"data":{"name":"band"},"transform":[{"filter":"datum.p==5 && datum.q=='s'"}],"mark":{"type":"line","color":"#f5b042","strokeDash":[3,2],"strokeWidth":0.9,"clip":true},"encoding":{"x":{"field":"x","type":"quantitative","axis":{"orient":"top","values":[0,0.05,0.1,0.15,0.2,0.25,0.3,0.35,0.4,0.45],"tickSize":{"condition":{"test":"abs(datum.value*5-round(datum.value*5))<0.001","value":-5},"value":-2.5},"labels":false,"title":null}},"y":{"field":"med","type":"quantitative","axis":{"orient":"right","values":[50,100,150,200,250,300,350,400,450,500,550,600],"tickSize":{"condition":{"test":"datum.value%200==0","value":-5},"value":-2.5},"labels":false,"title":null}}}},
{"data":{"name":"pts"},"transform":[{"filter":"datum.p==5"}],"mark":{"type":"errorbar","color":"#ff0000","opacity":0.75,"thickness":1.2},"encoding":{"x":{"field":"x","type":"quantitative","axis":null},"y":{"field":"s","type":"quantitative","axis":null},"yError":{"field":"se"}}},
{"data":{"name":"pts"},"transform":[{"filter":"datum.p==5"}],"mark":{"type":"circle","size":10,"fill":"#c00000","stroke":"black","strokeWidth":0.7,"opacity":1,"clip":true},"encoding":{"x":{"field":"x","type":"quantitative","axis":null},"y":{"field":"s","type":"quantitative","axis":null}}}
]}
]
}
